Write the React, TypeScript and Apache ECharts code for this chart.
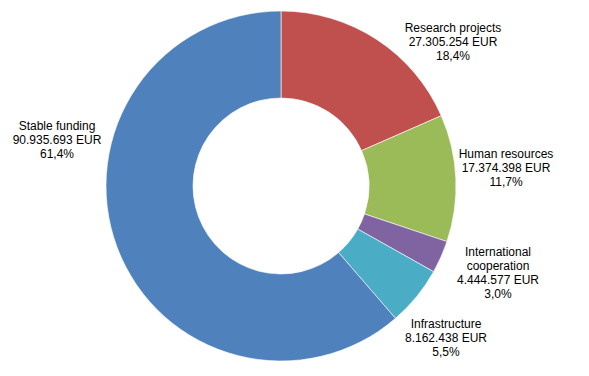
import React, { useEffect, useRef } from "react";
import * as echarts from "echarts";

const categories = [
  "Research projects",
  "Human resources",
  "International\ncooperation",
  "Infrastructure",
  "Stable funding",
];
const values = [27305254, 17374398, 4444577, 8162438, 90935693];
const colors = ["#C0504D", "#9BBB59", "#8064A2", "#4BACC6", "#4F81BD"];
const labelPos: [number, number][] = [
  [453, 42],
  [506, 168],
  [498, 273],
  [446, 338],
  [57, 140],
];

const total = values.reduce((a, b) => a + b, 0);
const fmtNum = (v: number) => String(v).replace(/\B(?=(\d{3})+(?!\d))/g, ".");
const fmtPct = (v: number) => ((v / total) * 100).toFixed(1).replace(".", ",") + "%";

export default function App() {
  const ref = useRef<HTMLDivElement>(null);
  useEffect(() => {
    if (!ref.current) return;
    const chart = echarts.init(ref.current, null, { renderer: "svg" });
    chart.setOption({
      animation: false,
      backgroundColor: "#fff",
      series: [
        {
          type: "pie",
          center: [281, 186],
          radius: [88, 175],
          startAngle: 90,
          clockwise: true,
          avoidLabelOverlap: false,
          itemStyle: { borderColor: "#fff", borderWidth: 0.6 },
          label: {
            show: true,
            position: "outside",
            fontFamily: "Liberation Sans, Arial, sans-serif",
            fontSize: 12,
            lineHeight: 14,
            color: "#000",
            align: "center",
            formatter: (p: any) =>
              `${p.name}\n${fmtNum(p.value)} EUR\n${fmtPct(p.value)}`,
          },
          labelLine: { show: false },
          labelLayout: (p: any) => ({
            x: labelPos[p.dataIndex][0],
            y: labelPos[p.dataIndex][1],
            align: "center",
            verticalAlign: "middle",
          }),
          emphasis: { disabled: true },
          data: categories.map((c, i) => ({
            name: c,
            value: values[i],
            itemStyle: { color: colors[i] },
          })),
        },
      ],
    });
    return () => chart.dispose();
  }, []);
  return (
    <div
      ref={ref}
      style={{ position: "fixed", left: 0, top: 0, width: 589, height: 376 }}
    />
  );
}
